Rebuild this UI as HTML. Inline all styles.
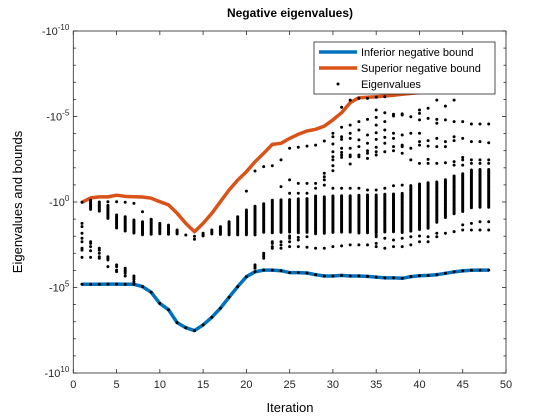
<!DOCTYPE html>
<html><head><meta charset="utf-8"><style>
body{margin:0;background:#fff}
svg{display:block;font-family:"Liberation Sans",sans-serif}
</style></head><body>
<svg id="chart" width="560" height="420" viewBox="0 0 560 420" xmlns="http://www.w3.org/2000/svg">
<rect width="560" height="420" fill="#fff"/>
<text x="290" y="17" text-anchor="middle" font-size="12" font-weight="bold">Negative eigenvalues)</text>
<g id="plot"></g>
<text x="290" y="412" text-anchor="middle" font-size="13">Iteration</text>
<text transform="translate(22,202) rotate(-90)" text-anchor="middle" font-size="13">Eigenvalues and bounds</text>
</svg>
<script>
const iterations=[];for(let i=1;i<=48;i++)iterations.push(i);
const inferiorExp=[4.81,4.81,4.81,4.8,4.8,4.81,4.81,4.95,5.28,5.93,6.3,7.05,7.35,7.52,7.19,6.74,6.21,5.57,4.95,4.37,4.08,3.98,3.98,4.02,4.13,4.13,4.15,4.25,4.33,4.33,4.29,4.33,4.33,4.35,4.39,4.44,4.44,4.46,4.36,4.31,4.29,4.25,4.17,4.09,4.03,3.99,3.98,3.98];
const superiorExp=[0.02,-0.24,-0.3,-0.3,-0.4,-0.33,-0.31,-0.29,-0.22,-0.02,0.17,0.66,1.25,1.74,1.25,0.66,-0.02,-0.7,-1.28,-1.77,-2.35,-2.85,-3.37,-3.43,-3.72,-3.96,-4.15,-4.25,-4.44,-4.8,-5.22,-5.81,-6.1,-6.12,-6.16,-6.2,-6.24,-6.3,-6.35,-6.4,-6.45,-6.5,-6.55,-6.6,-6.65,-6.7,-6.75,-6.8];
// dense eigenvalue band per iteration [lo exponent, hi exponent] (null = none)
const bandLo=[null,-0.1,0,0.2,0.76,0.86,1.05,1.15,1.05,1.25,1.35,1.64,1.93,2.0,1.83,1.64,1.44,1.15,0.86,0.47,0.25,0.1,-0.1,-0.12,-0.14,-0.18,-0.2,-0.35,-0.3,-0.35,-0.37,-0.37,-0.39,-0.41,-0.41,-0.45,-0.47,-0.5,-0.96,-1.05,-1.13,-1.17,-1.3,-1.52,-1.65,-1.87,-1.9,-1.9];
const bandHi=[null,0.5,0.6,1.0,1.54,1.74,1.83,1.93,1.93,1.93,1.93,1.93,1.93,2.0,1.99,1.93,1.93,1.93,1.93,1.93,1.93,1.83,1.83,1.83,1.83,1.83,1.83,1.93,1.83,1.83,1.83,1.83,1.83,1.83,1.83,1.79,1.79,1.79,1.73,1.68,1.54,1.25,0.96,0.76,0.57,0.37,0.37,0.37];
// sparse eigenvalues: x iterations and exponents
const sparseX=[];const sparseE=[];
const upper={20:[513],21:[453],22:[440],23:[437],24:[420,500],25:[385,480,520],26:[382,490,520],27:[378,490,520],28:[375,490,505],29:[363,460,470,480,495],
30:[340,350,372,395,410,420,437,452,505],31:[262,322,350,358,385,397,405,412,505],32:[240,315,340,355,385,405,410,432,505],33:[235,305,330,360,380,405,410,505],34:[235,298,345,370,392,400,415,510],35:[232,270,292,315,338,358,382,395,405,510],36:[230,278,305,330,352,370,395,505],37:[283,288,340,355,380,392,497],38:[282,285,345,375,380,400,495],39:[290,340,385,420],40:[270,280,300,340,365,375,430],41:[265,295,362,378,418,430],42:[240,298,310,355,380,430],43:[258,300,365,380,428],44:[240,305,350,362,425,435],45:[305,355,412,420,435],46:[312,365,420,430],47:[312,365,420,430],48:[312,368,420,430],
1:[547],4:[545],5:[545],6:[547],7:[550],8:[575],9:[598]};
const lower={1:[70,80,100,115,125,145,150,172],2:[125,130,140,152,172],3:[145,150,160,170,175],4:[170,175,180,200],5:[195,200,210,215],6:[205,210,215,220,228],7:[228,232,238,245],14:[118],21:[195,200,205],22:[160,165,170,175],23:[125,130,140,145],24:[125,135,145],25:[108,115,125,140],26:[112,120,140],27:[110,142],28:[145],29:[145],30:[140],31:[138],32:[135],33:[135],34:[135],35:[105,110,130,140],36:[115,145],37:[120,140],38:[115,140],39:[110,135],40:[108,125],41:[110,125],42:[100,110],43:[100],44:[95],45:[75,90],46:[70,90],47:[65,90],48:[65,90]};
for(const k in upper)for(const z of upper[k]){sparseX.push(+k);sparseE.push(+(z/51.3-10.643).toFixed(2));}
for(const k in lower)for(const z of lower[k]){sparseX.push(+k);sparseE.push(+(z/51.3-0.117).toFixed(2));}
const xTicks=[0,5,10,15,20,25,30,35,40,45,50];
const yTicks=[-10,-5,0,5,10];
const yTickLabels=["-10","-5","0","5","10"];

const L=73.3,R=506,T=31,B=373;
const X=v=>L+(v-0)/50*(R-L);
const Y=e=>T+(e+10)/20*(B-T);
const NS="http://www.w3.org/2000/svg";
const g=document.getElementById('plot');
function mk(t,a,p){const e=document.createElementNS(NS,t);for(const k in a)e.setAttribute(k,a[k]);(p||g).appendChild(e);return e;}

const box=mk('rect',{x:L,y:T,width:R-L,height:B-T,fill:'none',stroke:'#262626','stroke-width':0.8});


for(const t of xTicks){
  mk('line',{x1:X(t),x2:X(t),y1:B,y2:B-4,stroke:'#262626','stroke-width':0.8});
  mk('line',{x1:X(t),x2:X(t),y1:T,y2:T+4,stroke:'#262626','stroke-width':0.8});
  const tx=mk('text',{x:X(t),y:B+15,'text-anchor':'middle','font-size':11,fill:'#262626'});
  tx.textContent=t;
  
  
}
for(let e=-10;e<=10;e++){
  const len=(e%5===0)?4:2.5;
  mk('line',{x1:L,x2:L+len,y1:Y(e),y2:Y(e),stroke:'#262626','stroke-width':0.8});
  mk('line',{x1:R,x2:R-len,y1:Y(e),y2:Y(e),stroke:'#262626','stroke-width':0.8});
}
yTicks.forEach((t,i)=>{
  const tx=mk('text',{x:L-4,y:Y(t)+4,'text-anchor':'end','font-size':11,fill:'#262626'});
  
  
  const s1=document.createElementNS(NS,'tspan');s1.textContent='-10';tx.appendChild(s1);
  const s2=document.createElementNS(NS,'tspan');s2.setAttribute('font-size','8');s2.setAttribute('dy','-5');s2.textContent=yTickLabels[i];tx.appendChild(s2);
});

function line(arr,color,name){
  const d=arr.map((e,i)=>(i?'L':'M')+X(iterations[i]).toFixed(1)+','+Y(e).toFixed(1)).join('');
  const p=mk('path',{d:d,fill:'none',stroke:color,'stroke-width':3.5,'stroke-linejoin':'round'});
  
  
}
line(inferiorExp,'#0072BD','inferior-bound-line');
line(superiorExp,'#D95319','superior-bound-line');

const dots=mk('g',{fill:'#000'});


function dot(x,e){mk('circle',{cx:X(x).toFixed(1),cy:Y(e).toFixed(1),r:1.5},dots);}
iterations.forEach((it,i)=>{
  dot(it,inferiorExp[i]);
  if(bandLo[i]!==null){
    for(let py=Y(bandLo[i]);py<=Y(bandHi[i])+0.01;py+=1.3){mk('circle',{cx:X(it).toFixed(1),cy:py.toFixed(1),r:1.5},dots);}
  }
});
sparseX.forEach((x,i)=>dot(x,sparseE[i]));

const lg=mk('g',{});


mk('rect',{x:314,y:42,width:181,height:52,fill:'#fff',stroke:'#262626','stroke-width':0.8},lg);
const entries=[['Inferior negative bound','#0072BD','line'],['Superior negative bound','#D95319','line'],['Eigenvalues','#000','dot']];
entries.forEach((en,i)=>{
  const y=53+i*16;
  const eg=mk('g',{},lg);
  
  
  if(en[2]==='line')mk('line',{x1:319,x2:357,y1:y-1,y2:y-1,stroke:en[1],'stroke-width':3.5},eg);
  else mk('circle',{cx:338,cy:y-1,r:1.5,fill:'#000'},eg);
  const t=mk('text',{x:361,y:y+3,'font-size':11,fill:'#000'},eg);t.textContent=en[0];
});
</script>
</body></html>
